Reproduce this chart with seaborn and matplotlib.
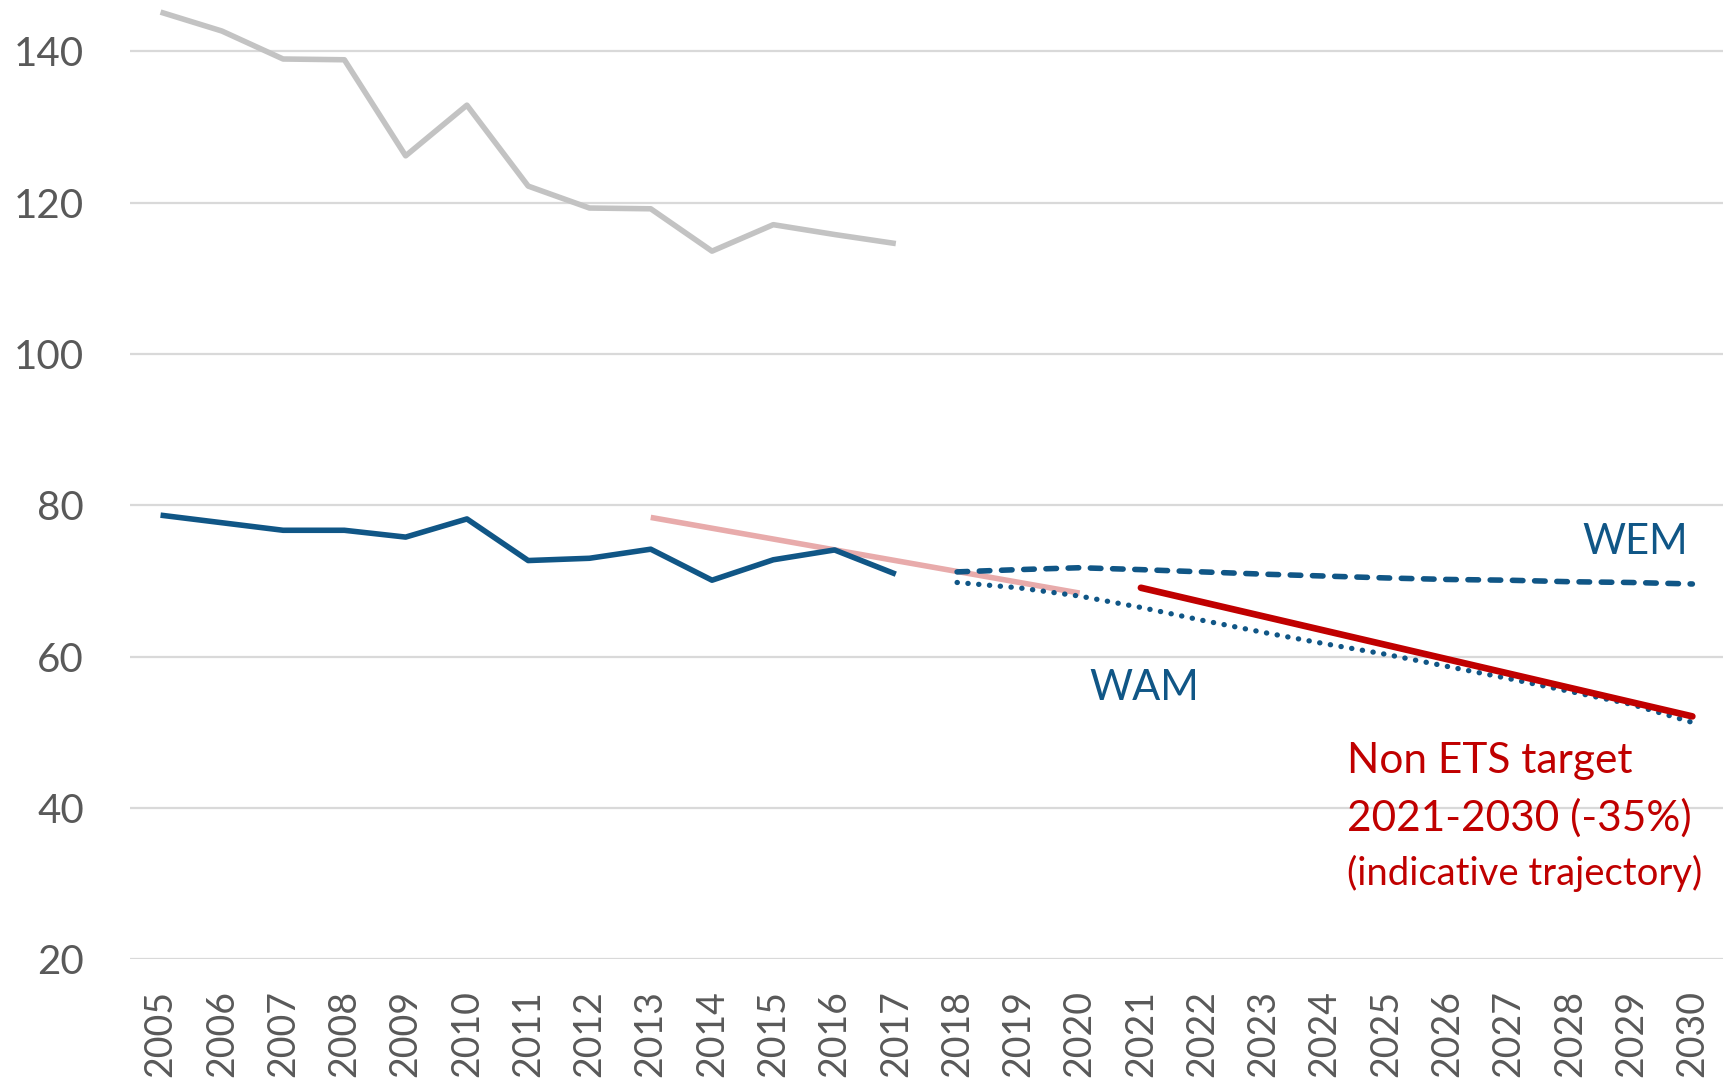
import matplotlib
matplotlib.use("Agg")
import matplotlib.pyplot as plt
import seaborn as sns

# historical years and series
hist_years = [2005, 2006, 2007, 2008, 2009, 2010, 2011, 2012, 2013, 2014, 2015, 2016, 2017]
total_emissions = [145.2, 142.7, 139.0, 138.9, 126.2, 132.9, 122.2, 119.3, 119.2, 113.6, 117.1, 115.8, 114.6]
non_ets = [78.7, 77.7, 76.7, 76.7, 75.8, 78.2, 72.7, 73.0, 74.2, 70.1, 72.8, 74.1, 70.9]

# 2013-2020 target (start and end)
target_2020_years = [2013, 2020]
target_2020 = [78.4, 68.4]

# projections
proj_years = [2018, 2019, 2020, 2021, 2022, 2023, 2024, 2025, 2026, 2027, 2028, 2029, 2030]
wem = [71.2, 71.5, 71.75, 71.5, 71.2, 70.9, 70.65, 70.4, 70.2, 70.1, 69.9, 69.8, 69.6]
wam = [69.8, 69.1, 68.0, 66.5, 64.8, 63.2, 61.7, 60.3, 58.7, 57.1, 55.4, 53.7, 51.3]

# 2021-2030 indicative trajectory
target_2030_years = [2021, 2030]
target_2030 = [69.1, 52.1]

all_years = list(range(2005, 2031))
y_ticks = [20, 40, 60, 80, 100, 120, 140]

BLUE = "#105686"
GREY = "#C3C3C3"
PINK = "#E8ABAB"
RED = "#C00000"
TXT = "#595959"

sns.set_style("white")
plt.rcParams["font.family"] = ["Lato", "DejaVu Sans"]

fig = plt.figure(figsize=(17.23, 10.9), dpi=100)
ax = fig.add_axes([0.0754, 0.12, 0.9246, 0.88])

sns.lineplot(x=hist_years, y=total_emissions, ax=ax, color=GREY, linewidth=4,
             solid_capstyle="butt", clip_on=False)
sns.lineplot(x=target_2020_years, y=target_2020, ax=ax, color=PINK, linewidth=4,
             solid_capstyle="butt")
sns.lineplot(x=hist_years, y=non_ets, ax=ax, color=BLUE, linewidth=4,
             solid_capstyle="butt")
sns.lineplot(x=proj_years, y=wem, ax=ax, color=BLUE, linewidth=4,
             linestyle=(0, (1.9, 2.1)), dash_capstyle="round")
sns.lineplot(x=proj_years, y=wam, ax=ax, color=BLUE, linewidth=3.8,
             linestyle=(0, (0.05, 2.0)), dash_capstyle="round")
sns.lineplot(x=target_2030_years, y=target_2030, ax=ax, color=RED, linewidth=4.8,
             solid_capstyle="round")

ax.set_xlim(2004.5, 2030.5)
ax.set_ylim(20, 146.8)
ax.set_xticks(all_years)
ax.set_xticklabels([str(y) for y in all_years], rotation=90, fontsize=27, color=TXT)
ax.set_yticks(y_ticks)
ax.set_yticklabels([str(v) for v in y_ticks], fontsize=29, color=TXT)
ax.tick_params(axis="y", length=0, pad=33)
ax.tick_params(axis="x", length=0, pad=22)
ax.grid(axis="y", color="#D9D9D9", linewidth=1.6)
ax.set_axisbelow(True)
sns.despine(ax=ax, left=True, bottom=True, top=True, right=True)
ax.set_xlabel("")
ax.set_ylabel("")

ax.text(2029.07, 75.2, "WEM", color=BLUE, fontsize=30, ha="center", va="center")
ax.text(2021.05, 55.8, "WAM", color=BLUE, fontsize=30, ha="center", va="center")
ax.text(2024.36, 46.2, "Non ETS target", color=RED, fontsize=30.5, ha="left", va="center")
ax.text(2024.36, 38.6, "2021-2030 (-35%)", color=RED, fontsize=30.5, ha="left", va="center")
ax.text(2024.36, 31.4, "(indicative trajectory)", color=RED, fontsize=27.5, ha="left", va="center")

fig.savefig("out.png", dpi=100)
plt.close(fig)
